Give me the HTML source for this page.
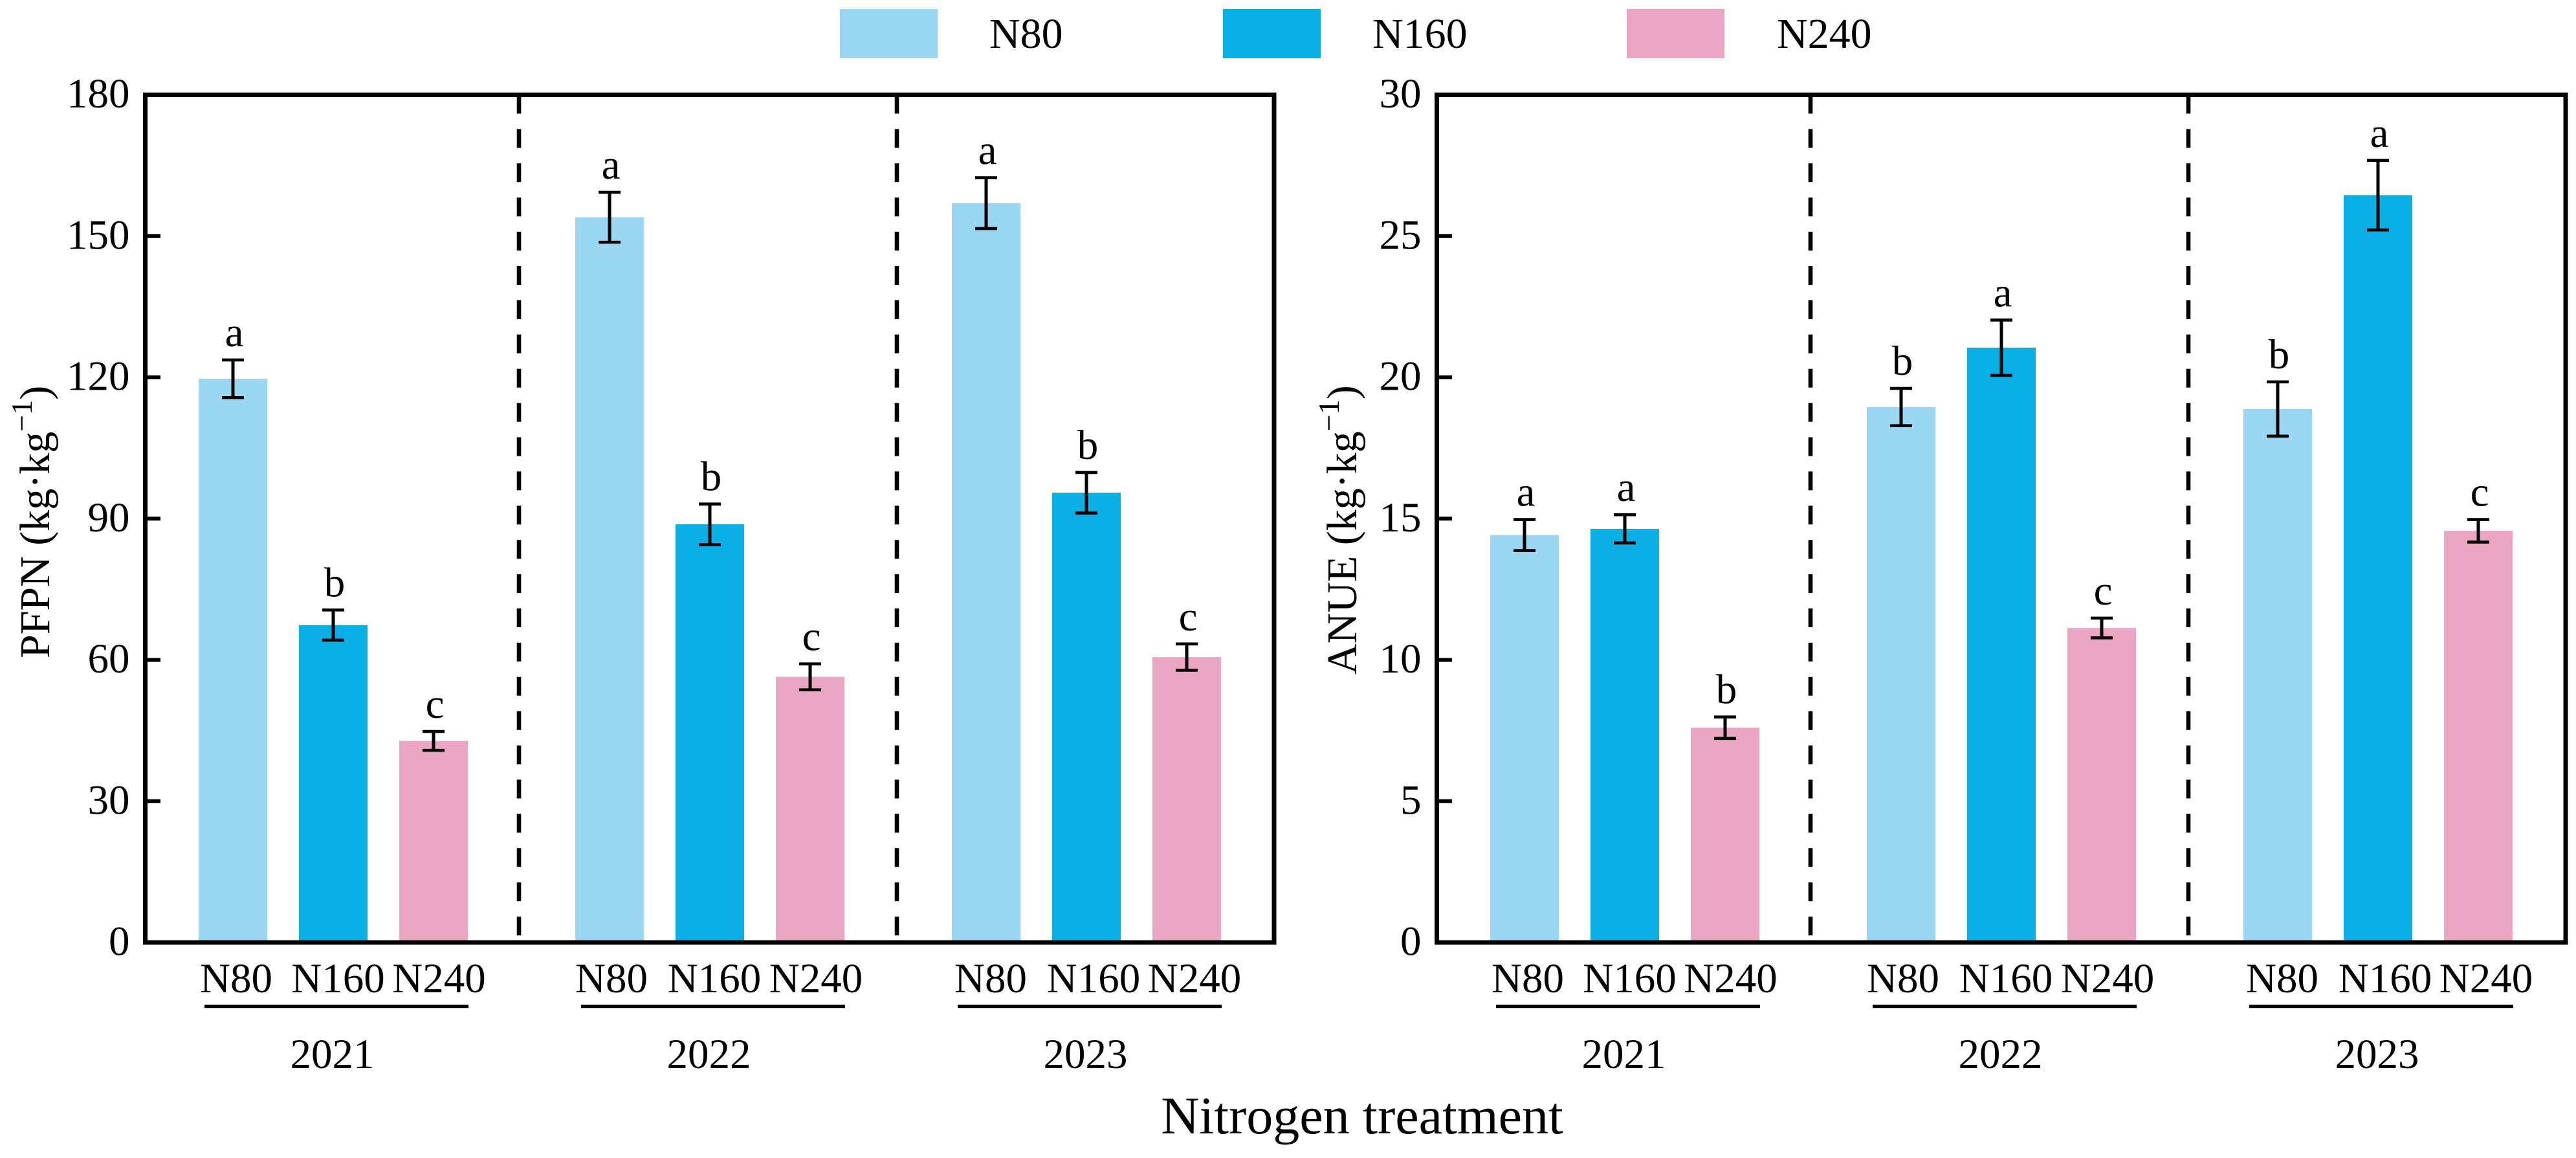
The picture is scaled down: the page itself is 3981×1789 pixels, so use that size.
<!DOCTYPE html>
<html lang="en">
<head>
<meta charset="utf-8">
<title>PFPN and ANUE by nitrogen treatment</title>
<style>
  html, body { margin: 0; padding: 0; background: #ffffff; }
  svg { display: block; }
  text { font-family: "Liberation Serif", serif; fill: #000000; }
</style>
</head>
<body>
<svg id="figure" xmlns="http://www.w3.org/2000/svg" width="3981" height="1789" viewBox="0 0 3981 1789">
  <rect x="0" y="0" width="3981" height="1789" fill="#ffffff"/>
  <g>
    <rect x="1298" y="14" width="151" height="76" fill="#99D7F3"/>
    <text x="1529" y="74" font-size="66">N80</text>
    <rect x="1890" y="14" width="151" height="76" fill="#09AFE5"/>
    <text x="2121" y="74" font-size="66">N160</text>
    <rect x="2514" y="14" width="151" height="76" fill="#EAA6C2"/>
    <text x="2746" y="74" font-size="66">N240</text>
  </g>
  <text transform="translate(76,1017) rotate(-90)" font-size="66">PFPN (kg·kg<tspan dy="-27" font-size="46">−1</tspan><tspan dy="27">)</tspan></text>
  <text transform="translate(2096,1042) rotate(-90)" font-size="66">ANUE (kg·kg<tspan dy="-27" font-size="46">−1</tspan><tspan dy="27">)</tspan></text>
  <text x="2105" y="1751" font-size="82" text-anchor="middle">Nitrogen treatment</text>
  <g id="panels"></g>
</svg>
<script>
// Categories
const years = ['2021', '2022', '2023'];
const treatments = ['N80', 'N160', 'N240'];

// Left panel: PFPN
const pfpnTicks = [0, 30, 60, 90, 120, 150, 180];
const pfpnN80 = [119.7, 154.0, 157.0];
const pfpnN160 = [67.4, 88.8, 95.5];
const pfpnN240 = [42.8, 56.4, 60.6];
const pfpnErrN80 = [4.0, 5.3, 5.4];
const pfpnErrN160 = [3.2, 4.3, 4.3];
const pfpnErrN240 = [2.0, 2.75, 2.8];
const pfpnLettersN80 = ['a', 'a', 'a'];
const pfpnLettersN160 = ['b', 'b', 'b'];
const pfpnLettersN240 = ['c', 'c', 'c'];

// Right panel: ANUE
const anueTicks = [0, 5, 10, 15, 20, 25, 30];
const anueN80 = [14.42, 18.95, 18.88];
const anueN160 = [14.64, 21.05, 26.45];
const anueN240 = [7.6, 11.13, 14.57];
const anueErrN80 = [0.55, 0.66, 0.96];
const anueErrN160 = [0.5, 0.98, 1.23];
const anueErrN240 = [0.38, 0.35, 0.4];
const anueLettersN80 = ['a', 'b', 'b'];
const anueLettersN160 = ['a', 'a', 'a'];
const anueLettersN240 = ['b', 'c', 'c'];

const SVGNS = 'http://www.w3.org/2000/svg';
const colors = ['#99D7F3', '#09AFE5', '#EAA6C2'];
const plotTop = 146.5;
const plotBottom = 1456;
const plotWidth = 1744.5;
const barWidth = 106;
const barPitch = 155;
const groupPitch = 582;
const firstBarOffset = 82.5;
const dividerOffsets = [577.5, 1161.5];
const categoryNudge = [[5, 7.5, 8.5], [3, 7, 9], [7, 11, 12]];

function make(parent, tag, props, content) {
  const node = document.createElementNS(SVGNS, tag);
  Object.keys(props).forEach(function (k) { node.setAttribute(k, props[k]); });
  if (content !== undefined) node.textContent = content;
  parent.appendChild(node);
  return node;
}

function drawPanel(root, id, left, ticks, series, errors, letters) {
  const yMax = ticks[ticks.length - 1];
  const yScale = function (v) { return plotBottom - (v / yMax) * (plotBottom - plotTop); };
  const barLeft = function (g, t) { return left + firstBarOffset + g * groupPitch + t * barPitch; };

  const panel = make(root, 'g', {});
  
  

  // bars
  years.forEach(function (year, g) {
    treatments.forEach(function (tr, t) {
      const top = yScale(series[t][g]);
      const bar = make(panel, 'rect', { x: barLeft(g, t), y: top, width: barWidth, height: plotBottom - top, fill: colors[t] });
      
      
    });
  });

  // frame
  const frame = make(panel, 'rect', { x: left, y: plotTop, width: plotWidth, height: plotBottom - plotTop, fill: 'none', stroke: '#000', 'stroke-width': 7 });
  
  

  // dashed dividers
  dividerOffsets.forEach(function (off, i) {
    const divider = make(panel, 'line', { x1: left + off, x2: left + off, y1: plotTop, y2: plotBottom - 10, stroke: '#000', 'stroke-width': 6.6, 'stroke-dasharray': '29 23.9' });
    
    
  });

  // y ticks and labels
  ticks.forEach(function (v) {
    const y = yScale(v);
    if (v !== 0 && v !== yMax) {
      const tick = make(panel, 'line', { x1: left, x2: left + 23.5, y1: y, y2: y, stroke: '#000', 'stroke-width': 5.9 });
      
      
    }
    const label = make(panel, 'text', { x: left - 24, y: y + 19.5, 'font-size': 65, 'text-anchor': 'end' }, String(v));
    
    
  });

  // error bars and significance letters
  years.forEach(function (year, g) {
    treatments.forEach(function (tr, t) {
      const cx = barLeft(g, t) + barWidth / 2;
      const hi = yScale(series[t][g] + errors[t][g]);
      const lo = yScale(series[t][g] - errors[t][g]);
      const err = make(panel, 'g', { stroke: '#000' });
      
      
      make(err, 'line', { x1: cx, x2: cx, y1: hi, y2: lo, 'stroke-width': 5 });
      make(err, 'line', { x1: cx - 17, x2: cx + 17, y1: hi, y2: hi, 'stroke-width': 4.6 });
      make(err, 'line', { x1: cx - 17, x2: cx + 17, y1: lo, y2: lo, 'stroke-width': 4.6 });
      const letter = make(panel, 'text', { x: cx + 2, y: hi - 21, 'font-size': 65, 'text-anchor': 'middle' }, letters[t][g]);
      
      
    });
  });

  // category labels, year underlines, year labels
  years.forEach(function (year, g) {
    treatments.forEach(function (tr, t) {
      const cat = make(panel, 'text', { x: barLeft(g, t) + barWidth / 2 + categoryNudge[g][t], y: 1533, 'font-size': 65, 'text-anchor': 'middle' }, tr);
      
      
    });
    const rule = make(panel, 'line', { x1: barLeft(g, 0) + 9, x2: barLeft(g, 2) + barWidth + 1, y1: 1554.8, y2: 1554.8, stroke: '#000', 'stroke-width': 5 });
    
    
    const yr = make(panel, 'text', { x: barLeft(g, 1) + barWidth / 2 - 1.5, y: 1650, 'font-size': 65, 'text-anchor': 'middle' }, year);
    
    
  });
}

const panelsRoot = document.getElementById('panels');
drawPanel(panelsRoot, 'pfpn', 224.5, pfpnTicks,
  [pfpnN80, pfpnN160, pfpnN240],
  [pfpnErrN80, pfpnErrN160, pfpnErrN240],
  [pfpnLettersN80, pfpnLettersN160, pfpnLettersN240]);
drawPanel(panelsRoot, 'anue', 2220.5, anueTicks,
  [anueN80, anueN160, anueN240],
  [anueErrN80, anueErrN160, anueErrN240],
  [anueLettersN80, anueLettersN160, anueLettersN240]);
</script>
</body>
</html>
